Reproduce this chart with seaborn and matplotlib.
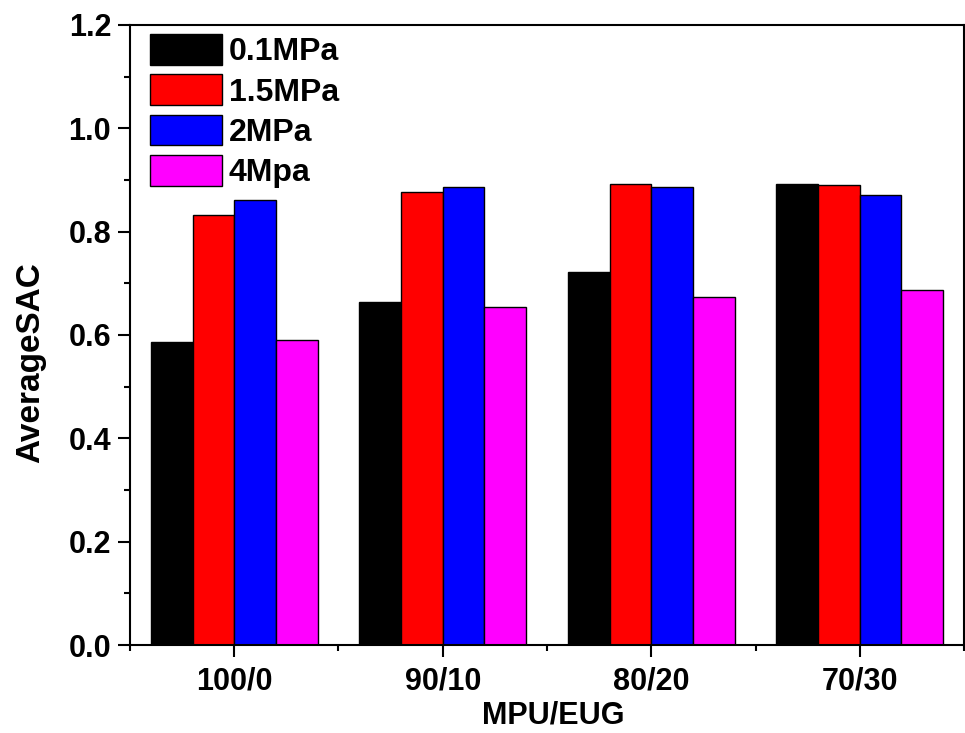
import numpy as np
import pandas as pd
import matplotlib
matplotlib.use("Agg")
import matplotlib.pyplot as plt
from matplotlib.ticker import MultipleLocator, FixedLocator
import seaborn as sns

# values
ratios = ["100/0", "90/10", "80/20", "70/30"]
pressures = ["0.1MPa", "1.5MPa", "2MPa", "4Mpa"]
sac_01 = [0.587, 0.663, 0.722, 0.892]
sac_15 = [0.832, 0.877, 0.892, 0.890]
sac_2 = [0.861, 0.887, 0.887, 0.871]
sac_4 = [0.591, 0.655, 0.674, 0.688]
colors = ["#000000", "#ff0000", "#0000ff", "#ff00ff"]

rows = []
for p, vals in zip(pressures, [sac_01, sac_15, sac_2, sac_4]):
    for r, v in zip(ratios, vals):
        rows.append({"ratio": r, "pressure": p, "sac": v})
df = pd.DataFrame(rows)

sns.set_style("ticks")
plt.rcParams['font.family'] = ['Liberation Sans', 'DejaVu Sans']
plt.rcParams['font.weight'] = 'bold'
plt.rcParams['text.color'] = 'black'
plt.rcParams['axes.labelcolor'] = 'black'
plt.rcParams['xtick.color'] = 'black'
plt.rcParams['ytick.color'] = 'black'
plt.rcParams['axes.edgecolor'] = 'black'

fig = plt.figure(figsize=(9.65, 7.33), dpi=100)
ax = fig.add_axes([0.1347, 0.12, 0.8643, 0.846])

sns.barplot(data=df, x="ratio", y="sac", hue="pressure", order=ratios,
            hue_order=pressures, palette=dict(zip(pressures, colors)),
            width=0.8, edgecolor="black", linewidth=1, saturation=1, ax=ax)

ax.set_xlim(-0.5, 3.5)
ax.set_ylim(0, 1.2)
ax.yaxis.set_minor_locator(MultipleLocator(0.1))
ax.xaxis.set_minor_locator(FixedLocator([-0.5, 0.5, 1.5, 2.5, 3.5]))
ax.set_yticks(np.arange(0, 1.21, 0.2))
ax.set_yticklabels(["%.1f" % v for v in np.arange(0, 1.21, 0.2)])

for s in ax.spines.values():
    s.set_linewidth(1.5)
    s.set_visible(True)
ax.tick_params(which="major", direction="out", length=8.5, width=1.5,
               labelsize=22)
ax.tick_params(which="minor", direction="out", length=4.5, width=1.5)
ax.tick_params(axis="x", which="major", pad=7)
ax.tick_params(axis="y", which="major", pad=5)
ax.tick_params(axis="both", which="both", top=False, right=False)
for lab in ax.get_xticklabels() + ax.get_yticklabels():
    lab.set_fontweight("bold")

ax.set_xlabel("MPU/EUG", fontsize=22, fontweight="bold")
ax.set_ylabel("AverageSAC", fontsize=24, fontweight="bold")
ax.xaxis.set_label_coords(0.508, -0.09)
ax.yaxis.set_label_coords(-0.1, 0.456)

leg = ax.legend(loc="upper left", frameon=False, fontsize=23,
                handlelength=2.25, handleheight=1.1, labelspacing=0.22,
                handletextpad=0.22, borderaxespad=0.0, borderpad=0.0,
                bbox_to_anchor=(0.024, 0.985))
for t in leg.get_texts():
    t.set_fontweight("bold")

fig.savefig("out.png", dpi=100)
